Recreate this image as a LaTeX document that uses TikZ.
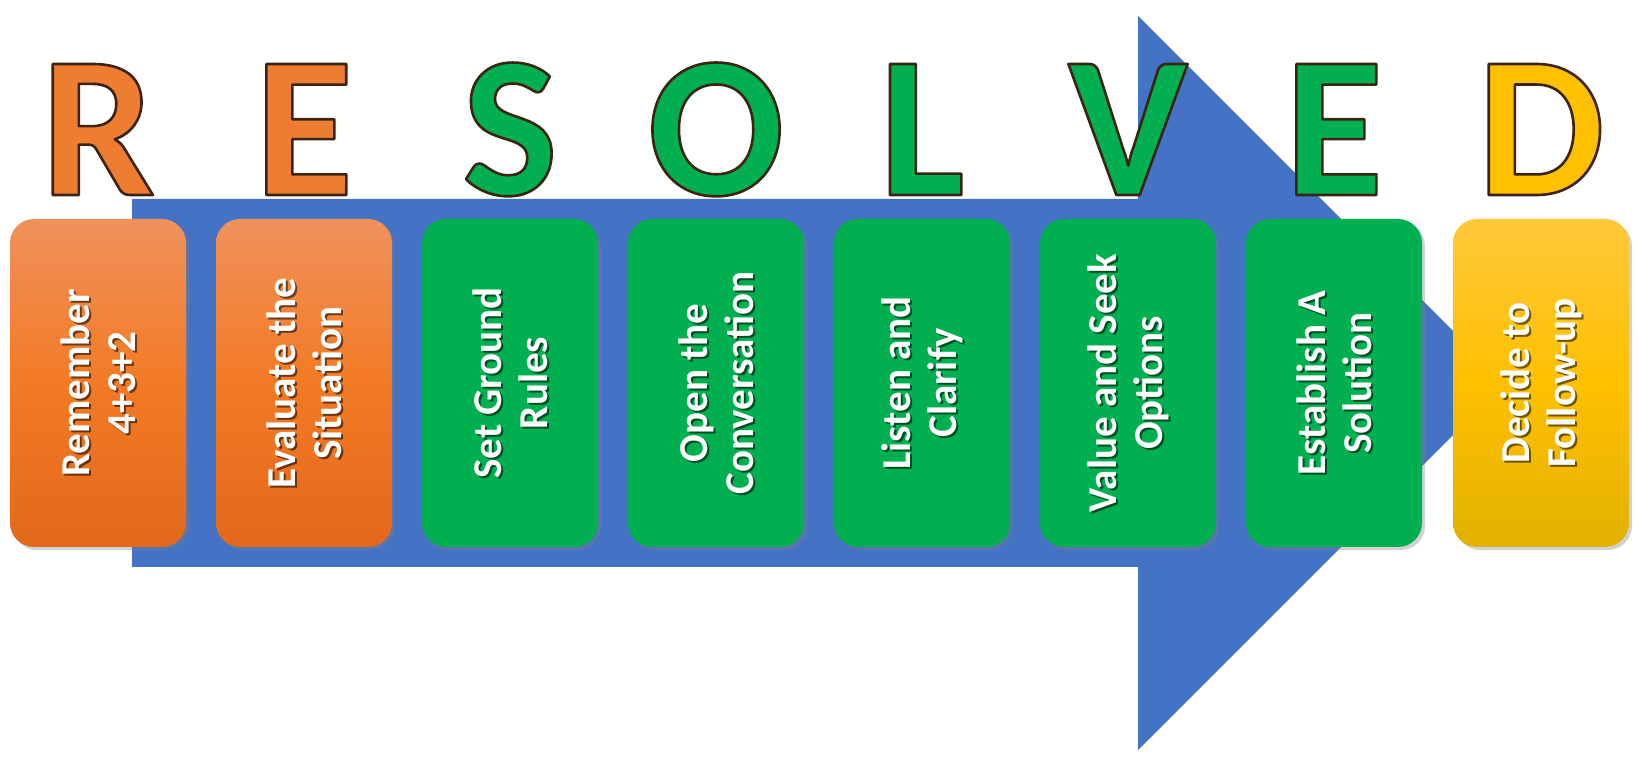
\documentclass[tikz,border=0pt]{standalone}
\usepackage{fontspec}
\setmainfont{Carlito}
\usetikzlibrary{shadows}
\definecolor{arrowblue}{HTML}{4472C4}
\definecolor{orA}{HTML}{F0915C}
\definecolor{orB}{HTML}{F37A24}
\definecolor{orC}{HTML}{E2681C}
\definecolor{grn}{HTML}{00B050}
\definecolor{ylA}{HTML}{FFC83A}
\definecolor{ylB}{HTML}{FFC000}
\definecolor{ylC}{HTML}{E2B100}
\definecolor{lorange}{HTML}{ED7D31}
\definecolor{lgreen}{HTML}{00B050}
\definecolor{lgold}{HTML}{FFC000}
\tikzset{
  stepbox/.style={rectangle, rounded corners=24pt, minimum width=176pt, minimum height=328pt, inner sep=0pt,
    drop shadow={opacity=0.35, shadow xshift=3pt, shadow yshift=-3pt}},
  orangebox/.style={stepbox, top color=orA, bottom color=orC, middle color=orB},
  greenbox/.style={stepbox, fill=grn},
  yellowbox/.style={stepbox, top color=ylA, bottom color=ylC, middle color=ylB},
  steptext/.style={rotate=90, align=center, text=white, inner sep=0pt,
    font=\bfseries\fontsize{41}{46}\selectfont},
  stepshadow/.style={steptext, text=black, opacity=0.55},
  bigletter/.style={anchor=base, inner sep=0pt, font=\bfseries\fontsize{202}{202}\selectfont},
}
% outlined glyph: fill + stroke (text rendering mode 2)
\newcommand\outl[1]{\special{pdf:code 2 Tr 2.6 w 1 j 0.23 0.14 0.08 RG}#1\special{pdf:code 0 Tr}}
\newcommand\mkstep[4]{%
  \node[#3] (#1) at (#2,376) {};
  \node[stepshadow] at ([xshift=2,yshift=-2]#1.center) {#4};
  \node[steptext] (#1txt) at (#1.center) {#4};
}
\newcommand\mkletter[4]{%
  \node[bigletter, text=#3] (#1) at (#2,564) {\outl{#4}};
}
\begin{document}
\begin{tikzpicture}[x=1pt,y=1pt]
\useasboundingbox (0,0) rectangle (1639,759);
\fill[white] (0,0) rectangle (1639,759);
% big arrow
\fill[arrowblue] (132,560) -- (1138,560) -- (1138,743) -- (1505,376) -- (1138,9) -- (1138,192) -- (132,192) -- cycle;
% letters
\mkletter{lR}{98}{lorange}{R}
\mkletter{lE1}{304}{lorange}{E}
\mkletter{lS}{510}{lgreen}{S}
\mkletter{lO}{716}{lgreen}{O}
\mkletter{lL}{922}{lgreen}{L}
\mkletter{lV}{1128}{lgreen}{V}
\mkletter{lE2}{1334}{lgreen}{E}
\mkletter{lD}{1541}{lgold}{D}
% step boxes
\mkstep{s1}{98}{orangebox}{Remember\\4+3+2}
\mkstep{s2}{304}{orangebox}{Evaluate the\\Situation}
\mkstep{s3}{510}{greenbox}{Set Ground\\Rules}
\mkstep{s4}{716}{greenbox}{Open the\\Conversation}
\mkstep{s5}{922}{greenbox}{Listen and\\Clarify}
\mkstep{s6}{1128}{greenbox}{Value and Seek\\Options}
\mkstep{s7}{1334}{greenbox}{Establish A\\Solution}
\mkstep{s8}{1541}{yellowbox}{Decide to\\Follow-up}
\end{tikzpicture}
\end{document}
